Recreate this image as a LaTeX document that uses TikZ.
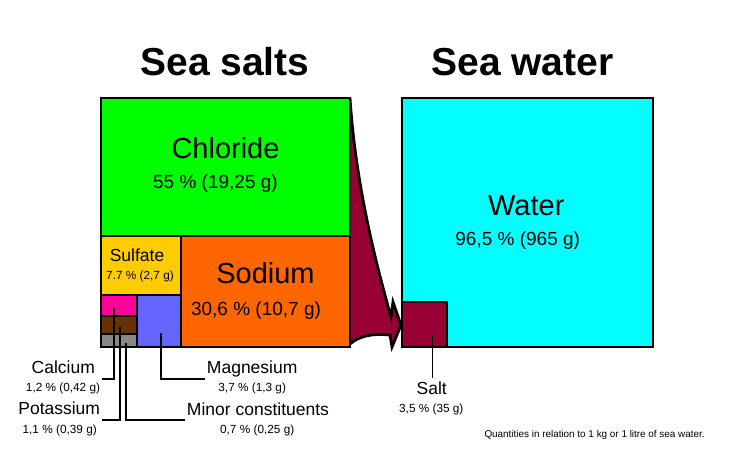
\documentclass[tikz,border=0pt]{standalone}
\usepackage{fontspec}
\setmainfont{Liberation Sans}
\usetikzlibrary{positioning}
\definecolor{chlor}{RGB}{0,255,0}
\definecolor{sulf}{RGB}{255,204,0}
\definecolor{sod}{RGB}{255,102,0}
\definecolor{calc}{RGB}{255,0,153}
\definecolor{pota}{RGB}{102,51,0}
\definecolor{minor}{RGB}{136,136,136}
\definecolor{magn}{RGB}{102,102,255}
\definecolor{water}{RGB}{0,255,255}
\definecolor{salt}{RGB}{153,0,51}

\begin{document}
\begin{tikzpicture}[x=1pt, y=-1pt,
  box/.style={draw, line width=2.8pt},
  lead/.style={line width=1.5pt},
  title/.style={font=\bfseries\fontsize{39}{40}\selectfont, anchor=base, inner sep=0pt},
  big/.style={font=\fontsize{29}{30}\selectfont, anchor=base, inner sep=0pt},
  mid/.style={font=\fontsize{19}{20}\selectfont, anchor=base, inner sep=0pt},
  lab/.style={font=\fontsize{17.5}{18}\selectfont, anchor=base, inner sep=0pt},
  small/.style={font=\fontsize{11.8}{12}\selectfont, anchor=base, inner sep=0pt}]
\useasboundingbox (0,0) rectangle (750,450);
% arrow from salts to water
\filldraw [fill=salt, line width=2.8pt, line join=miter] (350,98) .. controls (356,190) and (378,270) .. (391,317) -- (393,302) -- (401,325) -- (392,347) -- (390,335) .. controls (370,333) and (358,337) .. (350,344);
% sea salts
\filldraw [box, fill=chlor] (101,98) rectangle (350,236);
\filldraw [box, fill=sulf] (101,236) rectangle (181,295);
\filldraw [box, fill=sod] (181,236) rectangle (350,347);
\filldraw [box, fill=calc] (101,295) rectangle (137,316);
\filldraw [box, fill=pota] (101,316) rectangle (137,334);
\filldraw [box, fill=minor] (101,334) rectangle (137,347);
\filldraw [box, fill=magn] (137,295) rectangle (181,347);
% sea water
\filldraw [box, fill=water] (402,98) rectangle (653,347);
\filldraw [box, fill=salt] (402,302) rectangle (447,347);
% titles
\node [title] (seasalts) at (225,75) {Sea salts};
\node [title] (seawater) at (522.5,75) {Sea water};
% texts in boxes
\node [big] (chlname) at (225.5,158) {Chloride};
\node [mid] (chlval) at (215.5,188) {55 \% (19,25 g)};
\node [lab] (sulname) at (137,261) {Sulfate};
\node [small] (sulval) at (140,279) {7.7 \% (2,7 g)};
\node [big] (sodname) at (265.5,283) {Sodium};
\node [mid] (sodval) at (256,315) {30,6 \% (10,7 g)};
\node [big] (watname) at (526.3,215) {Water};
\node [mid] (watval) at (517.7,245) {96,5 \% (965 g)};
% labels below
\node [lab] (caname) at (63.3,373) {Calcium};
\node [small] (caval) at (63,391) {1,2 \% (0,42 g)};
\node [lab] (kname) at (59.2,414) {Potassium};
\node [small] (kval) at (59.7,433) {1,1 \% (0,39 g)};
\node [lab] (mgname) at (252.2,373) {Magnesium};
\node [small] (mgval) at (252.2,391) {3,7 \% (1,3 g)};
\node [lab] (miname) at (258,415) {Minor constituents};
\node [small] (mival) at (257.2,433) {0,7 \% (0,25 g)};
\node [lab] (saltname) at (431.7,394) {Salt};
\node [small] (saltval) at (431.3,412) {3,5 \% (35 g)};
\node [font=\fontsize{9.9}{10}\selectfont, anchor=base west, inner sep=0pt] (note) at (484.3,437) {Quantities in relation to 1 kg or 1 litre of sea water.};
% leader lines
\coordinate (caIn) at (114,307);
\coordinate (caEnd) at (101.5,379);
\coordinate (kIn) at (120,327);
\coordinate (kEnd) at (101.5,420);
\coordinate (miIn) at (126,343);
\coordinate (miEnd) at (185,420);
\coordinate (mgIn) at (161,333);
\coordinate (mgEnd) at (205,379);
\coordinate (saltIn) at (432.7,335);
\coordinate (saltEnd) at (432.7,378);
\draw [lead] (caIn) |- (caEnd);
\draw [lead] (kIn) |- (kEnd);
\draw [lead] (miIn) |- (miEnd);
\draw [lead] (mgIn) |- (mgEnd);
\draw [lead] (saltIn) -- (saltEnd);
\end{tikzpicture}
\end{document}
